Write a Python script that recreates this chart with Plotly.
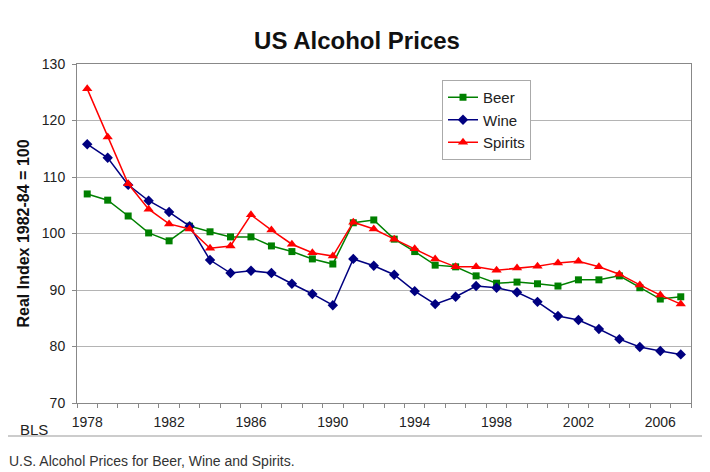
import plotly.graph_objects as go

years = list(range(1978, 2008))
beer = [107.0, 105.9, 103.1, 100.1, 98.7, 101.3, 100.3, 99.4, 99.4, 97.8,
        96.8, 95.5, 94.6, 101.9, 102.4, 99.0, 96.8, 94.4, 94.1, 92.5,
        91.2, 91.4, 91.1, 90.7, 91.8, 91.8, 92.5, 90.4, 88.4, 88.8]
wine = [115.8, 113.4, 108.6, 105.8, 103.8, 101.3, 95.3, 93.0, 93.4, 93.0,
        91.1, 89.3, 87.3, 95.5, 94.3, 92.7, 89.8, 87.5, 88.8, 90.7,
        90.4, 89.6, 87.9, 85.4, 84.7, 83.1, 81.3, 79.9, 79.2, 78.6]
spirits = [125.6, 117.1, 108.8, 104.3, 101.7, 100.8, 97.4, 97.8, 103.3, 100.6,
           98.1, 96.6, 96.0, 102.0, 100.8, 99.0, 97.3, 95.5, 94.1, 94.1,
           93.5, 93.9, 94.2, 94.8, 95.1, 94.1, 92.8, 90.9, 89.1, 87.5]
x_ticks = list(range(1978, 2008, 4))
y_ticks = [70, 80, 90, 100, 110, 120, 130]

FONT = "Liberation Sans, Arial, Helvetica, sans-serif"
OFF = 8  # page body margin

fig = go.Figure()
fig.add_trace(go.Scatter(x=years, y=beer, name="Beer", mode="lines+markers",
                         line=dict(color="#008000", width=1.5),
                         marker=dict(symbol="square", size=7, color="#008000")))
fig.add_trace(go.Scatter(x=years, y=wine, name="Wine", mode="lines+markers",
                         line=dict(color="#000080", width=1.5),
                         marker=dict(symbol="diamond", size=8, color="#000080")))
fig.add_trace(go.Scatter(x=years, y=spirits, name="Spirits", mode="lines+markers",
                         line=dict(color="#FF0000", width=1.5),
                         marker=dict(symbol="triangle-up", size=9, color="#FF0000")))

fig.update_layout(
    width=710, height=472,
    margin=dict(l=77 - OFF, r=19 + OFF, t=64 - OFF, b=69 + OFF),
    paper_bgcolor="white", plot_bgcolor="white",
    font=dict(family=FONT, size=14, color="#222222"),
    title=dict(text="<b>US Alcohol Prices</b>", x=(357 - OFF) / 710,
               xref="container", xanchor="center",
               y=1 - (41 - OFF) / 472, yanchor="middle", yref="container",
               font=dict(size=24, color="#111111")),
    showlegend=True,
    legend=dict(x=(442 - 77) / 614, y=(403 - 80) / 339, xanchor="left", yanchor="top",
                bgcolor="white", bordercolor="#aaaaaa", borderwidth=1,
                font=dict(size=15, color="#222222"), tracegroupgap=0,
                itemwidth=30),
)

fig.update_xaxes(range=[1977.5, 2007.5], tickvals=x_ticks, ticktext=[str(v) for v in x_ticks],
                 ticks="", showgrid=False, showline=True, linecolor="#888888", linewidth=1,
                 mirror=True, zeroline=False, ticklabelstandoff=6,
                 minor=dict(tick0=1977.5, dtick=1, ticks="outside", ticklen=4,
                            tickcolor="#888888", showgrid=False))
fig.update_yaxes(range=[70, 130], tickvals=y_ticks, ticks="outside", ticklen=4,
                 tickcolor="#888888", showgrid=True, gridcolor="#b4b4b4", gridwidth=1,
                 showline=True, linecolor="#888888", linewidth=1, mirror=True,
                 zeroline=False, ticklabelstandoff=4,
                 title=dict(text="<b>Real Index 1982-84 = 100</b>", font=dict(size=16, color="#111111"),
                            standoff=8))

# outer frame of the original chart image
fig.add_shape(type="line", xref="paper", yref="paper",
              x0=(7 - 77) / 614, x1=(7 - 77) / 614, y0=(403 - 12) / 339, y1=(403 - 436) / 339,
              line=dict(color="#999999", width=1))
fig.add_shape(type="line", xref="paper", yref="paper",
              x0=(7 - 77) / 614, x1=(707 - 77) / 614, y0=(403 - 436) / 339, y1=(403 - 436) / 339,
              line=dict(color="#999999", width=1))

fig.add_annotation(text="BLS", xref="paper", yref="paper", x=(34 - 77) / 614, y=(403 - 429) / 339,
                   showarrow=False, xanchor="center", yanchor="middle",
                   font=dict(size=15, color="#222222"))
fig.add_annotation(text="U.S. Alcohol Prices for Beer, Wine and Spirits.", xref="paper", yref="paper",
                   x=(7 - 77) / 614, y=(403 - 461) / 339, showarrow=False,
                   xanchor="left", yanchor="middle", font=dict(size=14, color="#333333"))

fig.write_html("out.html")
